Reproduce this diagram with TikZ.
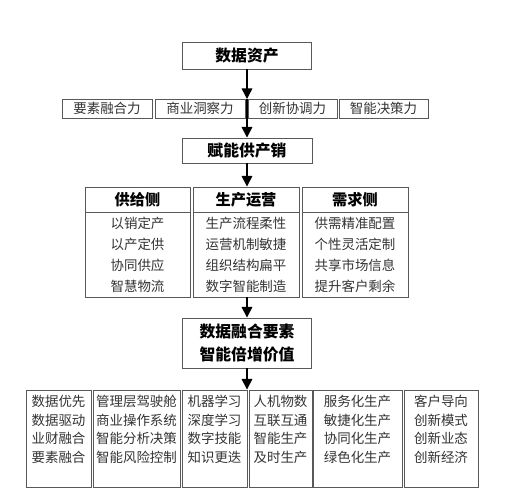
\documentclass[tikz,border=0pt]{standalone}
\usepackage{fontspec}
\setmainfont{Noto Sans CJK SC}
\usepackage{tikz}
\usetikzlibrary{arrows.meta, positioning}

\begin{document}
\begin{tikzpicture}[
        x=0.03cm, y=-0.03cm,
        boxline/.style = {draw=black!65, line width=0.8pt},
        titlebox/.style = {boxline, rectangle, inner sep=0pt, align=center, font=\fontsize{13.5}{19.5}\selectfont\bfseries, text=black},
        capbox/.style = {boxline, rectangle, inner sep=0pt, minimum height=0.57cm, font=\fontsize{11.5}{14}\selectfont, text=black!80},
        headbox/.style = {boxline, rectangle, inner sep=0pt, minimum height=0.75cm, font=\fontsize{13}{16}\selectfont\bfseries, text=black},
        bodybox/.style = {boxline, rectangle, inner sep=0pt, minimum height=2.55cm, align=center, font=\fontsize{11.5}{17.9}\selectfont, text=black!80},
        leafbox/.style = {boxline, rectangle, inner sep=0pt, minimum height=2.91cm},
        leaftext/.style = {anchor=north, inner sep=0pt, yshift=-0.17cm, align=center, font=\fontsize{11.5}{15.8}\selectfont, text=black!80},
        arr/.style = {line width=1.3pt, -{Triangle[width=9pt, length=9pt]}},
        plain/.style = {line width=1.3pt}
    ]
    \useasboundingbox (0,0) rectangle (510,501);

    % top
    \node [titlebox, minimum width=3.87cm, minimum height=0.81cm] (asset) at (247,55.5) {数据资产};

    \node [capbox, minimum width=2.7cm]  (cap1) at (107,108.5)   {要素融合力};
    \node [capbox, minimum width=2.7cm]  (cap2) at (200,108.5)   {商业洞察力};
    \node [capbox, minimum width=2.67cm] (cap3) at (292.5,108.5) {创新协调力};
    \node [capbox, minimum width=2.67cm] (cap4) at (383.5,108.5) {智能决策力};
    \coordinate (captop) at (247,99);
    \coordinate (capbot) at (247,118);

    \node [titlebox, minimum width=3.9cm, minimum height=0.75cm] (enable) at (247,150.5) {赋能供产销};

    % table
    \node [headbox, minimum width=3.15cm] (supplyh) at (137.5,199.5) {供给侧};
    \node [headbox, minimum width=3.18cm] (prodh)   at (246,199.5)   {生产运营};
    \node [headbox, minimum width=3.18cm] (demandh) at (355,199.5)   {需求侧};
    \node [bodybox, minimum width=3.15cm] (supplyb) at (137.5,254.5) {以销定产\\以产定供\\协同供应\\智慧物流};
    \node [bodybox, minimum width=3.18cm] (prodb)   at (246,254.5)   {生产流程柔性\\运营机制敏捷\\组织结构扁平\\数字智能制造};
    \node [bodybox, minimum width=3.18cm] (demandb) at (355,254.5)   {供需精准配置\\个性灵活定制\\共享市场信息\\提升客户剩余};

    \node [titlebox, minimum width=3.87cm, minimum height=1.5cm] (fusion) at (247,343) {数据融合要素\\智能倍增价值};

    % bottom row
    \node [leafbox, minimum width=1.95cm] (leaf1) at (58.5,438.5)  {};
    \node [leafbox, minimum width=2.61cm] (leaf2) at (136.5,438.5) {};
    \node [leafbox, minimum width=1.95cm] (leaf3) at (214.5,438.5) {};
    \node [leafbox, minimum width=1.89cm] (leaf4) at (280.5,438.5) {};
    \node [leafbox, minimum width=2.67cm] (leaf5) at (357.5,438.5) {};
    \node [leafbox, minimum width=2.22cm] (leaf6) at (441,438.5)   {};
    \node [leaftext] (leaf1t) at (leaf1.north) {数据优先\\数据驱动\\业财融合\\要素融合};
    \node [leaftext] (leaf2t) at (leaf2.north) {管理层驾驶舱\\商业操作系统\\智能分析决策\\智能风险控制};
    \node [leaftext] (leaf3t) at (leaf3.north) {机器学习\\深度学习\\数字技能\\知识更迭};
    \node [leaftext] (leaf4t) at (leaf4.north) {人机物数\\互联互通\\智能生产\\及时生产};
    \node [leaftext] (leaf5t) at (leaf5.north) {服务化生产\\敏捷化生产\\协同化生产\\绿色化生产};
    \node [leaftext] (leaf6t) at (leaf6.north) {客户导向\\创新模式\\创新业态\\创新经济};
    \coordinate (leaftop) at (fusion.south |- leaf3.north);

    % arrows
    \draw [arr] (asset.south) -- (captop);
    \draw [plain] (captop) -- (capbot);
    \draw [arr] (capbot) -- (enable.north);
    \draw [arr] (enable.south) -- (prodh.north -| enable.south);
    \draw [arr] (prodb.south -| fusion.north) -- (fusion.north);
    \draw [arr] (fusion.south) -- (leaftop);
\end{tikzpicture}
\end{document}
